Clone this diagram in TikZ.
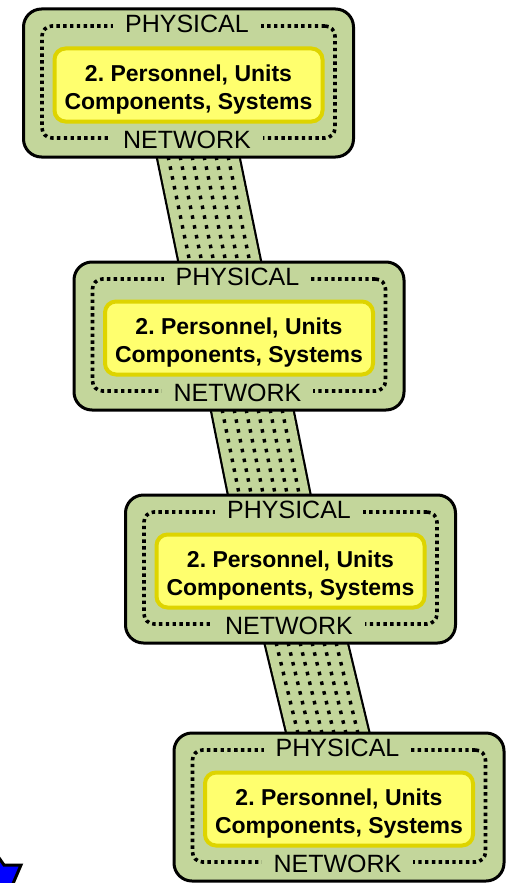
\documentclass[tikz,border=0pt]{standalone}
\usepackage{fontspec}
\setmainfont{Liberation Sans}
\usepackage{xcolor}
\usetikzlibrary{positioning, calc, backgrounds}
\definecolor{boxgreen}{RGB}{195,214,155}
\definecolor{sysyellow}{RGB}{255,255,110}
\definecolor{sysedge}{RGB}{222,212,0}
\definecolor{starblue}{RGB}{0,0,255}

\tikzset{
  physbox/.style={draw=black, line width=3pt, fill=boxgreen, rounded corners=18pt,
    minimum width=330pt, minimum height=148pt, inner sep=0pt},
  ringbox/.style={draw=black, line width=3.6pt, dash pattern=on 3.4pt off 3.4pt,
    rounded corners=10pt, minimum width=293pt, minimum height=112pt, inner sep=0pt},
  sysbox/.style={draw=sysedge, line width=4pt, fill=sysyellow, rounded corners=11pt,
    minimum width=268pt, minimum height=73pt, align=center,
    execute at begin node=\rule{0pt}{53pt},
    font=\frenchspacing\bfseries\fontsize{23}{28}\selectfont},
  layerlabel/.style={fill=boxgreen, inner ysep=2pt, inner xsep=12pt,
    font=\fontsize{25}{30}\selectfont},
  pipe/.style={line width=2.2pt, double=boxgreen, double distance=79pt,
    shorten <=-12pt, shorten >=-12pt},
  lane/.style={line width=3.4pt, dash pattern=on 3.6pt off 6.4pt,
    shorten <=-12pt, shorten >=-12pt},
}

\begin{document}
\begin{tikzpicture}[x=1pt, y=-1pt]
\useasboundingbox (0,0) rectangle (513,883);

% layer 1
\node[physbox] (phys1) at (188.5,83) {};
\node[ringbox] (ring1) at (188.5,82) {};
\node[sysbox] (sys1) at (188.5,85) {2. Personnel, Units\\Components, Systems};
\node[layerlabel] (top1) at ([xshift=-1.5pt]ring1.north) {PHYSICAL};
\node[layerlabel] (bot1) at ([xshift=-1.5pt]ring1.south) {NETWORK};

% layer 2
\node[physbox] (phys2) at (239,336) {};
\node[ringbox] (ring2) at (239,335) {};
\node[sysbox] (sys2) at (239,338) {2. Personnel, Units\\Components, Systems};
\node[layerlabel] (top2) at ([xshift=-1.5pt]ring2.north) {PHYSICAL};
\node[layerlabel] (bot2) at ([xshift=-1.5pt]ring2.south) {NETWORK};

% layer 3
\node[physbox] (phys3) at (290.5,569) {};
\node[ringbox] (ring3) at (290.5,568) {};
\node[sysbox] (sys3) at (290.5,571) {2. Personnel, Units\\Components, Systems};
\node[layerlabel] (top3) at ([xshift=-1.5pt]ring3.north) {PHYSICAL};
\node[layerlabel] (bot3) at ([xshift=-1.5pt]ring3.south) {NETWORK};

% layer 4
\node[physbox] (phys4) at (339,807) {};
\node[ringbox] (ring4) at (339,806) {};
\node[sysbox] (sys4) at (339,809) {2. Personnel, Units\\Components, Systems};
\node[layerlabel] (top4) at ([xshift=-1.5pt]ring4.north) {PHYSICAL};
\node[layerlabel] (bot4) at ([xshift=-1.5pt]ring4.south) {NETWORK};

% pipe ends
\coordinate (t1) at ($(phys1.south)+(10,0)$);
\coordinate (u1) at ($(phys2.north)+(-19.5,0)$);
\coordinate (t2) at ($(phys2.south)+(13.5,0)$);
\coordinate (u2) at ($(phys3.north)+(-21.5,0)$);
\coordinate (t3) at ($(phys3.south)+(16,0)$);
\coordinate (u3) at ($(phys4.north)+(-11.5,0)$);

% pipes go behind the boxes
\begin{scope}[on background layer]
\draw[pipe] (t1) -- (u1);
\draw[pipe] (t2) -- (u2);
\draw[pipe] (t3) -- (u3);
\foreach \d in {-30,-18,-6,6,18,30} {
  \draw[lane] ($(t1)+(\d,0)$) -- ($(u1)+(\d,0)$);
  \draw[lane] ($(t2)+(\d,0)$) -- ($(u2)+(\d,0)$);
  \draw[lane] ($(t3)+(\d,0)$) -- ($(u3)+(\d,0)$);
}
\end{scope}

% star tip in the corner
\draw[fill=starblue, line width=3pt, line join=miter] (-3,855) -- (4,865) -- (21,865)
  -- (12,886) -- (-5,892) -- cycle;
\end{tikzpicture}
\end{document}
